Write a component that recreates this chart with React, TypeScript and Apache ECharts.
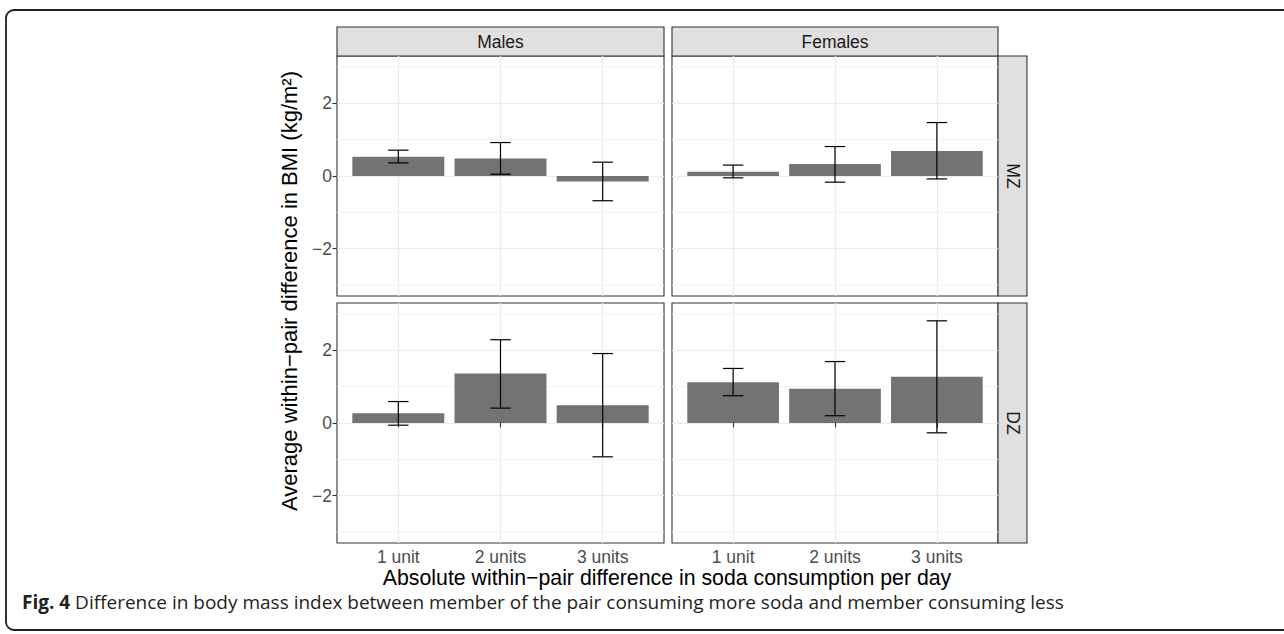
import React, { useEffect, useRef } from "react";
import * as echarts from "echarts";

const categories = ["1 unit", "2 units", "3 units"];
const sexLabels = ["Males", "Females"];
const zygosityLabels = ["MZ", "DZ"];
const yTicks = [-2, 0, 2];
const yMinorTicks = [-3, -1, 1, 3];
const xTicks = [1, 2, 3];

const mzMalesMean = [0.53, 0.48, -0.15];
const mzMalesLow = [0.36, 0.05, -0.68];
const mzMalesHigh = [0.71, 0.92, 0.38];
const mzFemalesMean = [0.12, 0.33, 0.69];
const mzFemalesLow = [-0.05, -0.17, -0.08];
const mzFemalesHigh = [0.3, 0.81, 1.47];
const dzMalesMean = [0.27, 1.36, 0.49];
const dzMalesLow = [-0.06, 0.41, -0.93];
const dzMalesHigh = [0.59, 2.29, 1.91];
const dzFemalesMean = [1.12, 0.94, 1.27];
const dzFemalesLow = [0.75, 0.2, -0.27];
const dzFemalesHigh = [1.5, 1.69, 2.81];

const yTitle = "Average within\u2212pair difference in BMI (kg/m\u00b2)";
const xTitle = "Absolute within\u2212pair difference in soda consumption per day";
const captionBold = "Fig. 4";
const captionText =
  "Difference in body mass index between member of the pair consuming more soda and member consuming less";

const FONT = "Liberation Sans";

export default function App() {
  const ref = useRef<HTMLDivElement>(null);

  useEffect(() => {
    if (!ref.current) return;
    const chart = echarts.init(ref.current, null, { renderer: "svg" });

    const panels = [
      { row: 0, col: 0, mean: mzMalesMean, low: mzMalesLow, high: mzMalesHigh },
      { row: 0, col: 1, mean: mzFemalesMean, low: mzFemalesLow, high: mzFemalesHigh },
      { row: 1, col: 0, mean: dzMalesMean, low: dzMalesLow, high: dzMalesHigh },
      { row: 1, col: 1, mean: dzFemalesMean, low: dzFemalesLow, high: dzFemalesHigh },
    ];
    const panelLeft = [337, 672];
    const panelWidth = [327, 326];
    const panelTop = [56, 303];
    const panelHeight = 240;
    const stripTop = 27;
    const stripH = 29;
    const stripLeft = 998;
    const stripW = 29;

    const grid: any[] = [];
    const xAxis: any[] = [];
    const yAxis: any[] = [];
    const series: any[] = [];

    panels.forEach((p, i) => {
      grid.push({
        left: panelLeft[p.col],
        top: panelTop[p.row],
        width: panelWidth[p.col],
        height: panelHeight,
        show: true,
        backgroundColor: "#ffffff",
        borderColor: "#333333",
        borderWidth: 1.1,
        containLabel: false,
      });
      const bottom = p.row === 1;
      const left = p.col === 0;
      xAxis.push({
        type: "value",
        gridIndex: i,
        min: 0.4,
        max: 3.6,
        axisLine: { show: false },
        axisTick: {
          show: bottom,
          customValues: xTicks,
          length: 4.5,
          lineStyle: { color: "#333333", width: 1.1 },
        },
        axisLabel: {
          show: bottom,
          customValues: xTicks,
          formatter: (v: number) => categories[Math.round(v) - 1] ?? "",
          color: "#4d4d4d",
          fontSize: 17.5,
          fontFamily: FONT,
          margin: 5,
        },
        splitLine: { show: true, lineStyle: { color: "#ebebeb", width: 1.2 } },
      });
      yAxis.push({
        type: "value",
        gridIndex: i,
        min: -3.3,
        max: 3.3,
        axisLine: { show: false },
        axisTick: {
          show: left,
          customValues: yTicks,
          length: 4.5,
          lineStyle: { color: "#333333", width: 1.1 },
        },
        axisLabel: {
          show: left,
          customValues: yTicks,
          formatter: (v: number) => String(v).replace("-", "\u2212"),
          color: "#4d4d4d",
          fontSize: 17.5,
          fontFamily: FONT,
          margin: 5,
        },
        splitLine: { show: true, lineStyle: { color: "#ebebeb", width: 1.2 } },
      });

      series.push({
        type: "custom",
        xAxisIndex: i,
        yAxisIndex: i,
        silent: true,
        z: 1,
        data: yMinorTicks.map((v) => [2, v]),
        renderItem: (params: any, api: any) => {
          const v = api.value(1);
          const a = api.coord([0.4, v]);
          const b = api.coord([3.6, v]);
          return {
            type: "line",
            shape: { x1: a[0], y1: a[1], x2: b[0], y2: b[1] },
            style: { stroke: "#f2f2f2", lineWidth: 1 },
          };
        },
      });

      series.push({
        type: "custom",
        xAxisIndex: i,
        yAxisIndex: i,
        z: 2,
        data: categories.map((c, k) => [k + 1, p.mean[k]]),
        encode: { x: 0, y: 1 },
        renderItem: (params: any, api: any) => {
          const x = api.value(0);
          const y = api.value(1);
          const a = api.coord([x - 0.45, y]);
          const b = api.coord([x + 0.45, 0]);
          return {
            type: "rect",
            shape: {
              x: a[0],
              y: Math.min(a[1], b[1]),
              width: b[0] - a[0],
              height: Math.abs(b[1] - a[1]),
            },
            style: { fill: "#737373" },
          };
        },
      });

      series.push({
        type: "custom",
        xAxisIndex: i,
        yAxisIndex: i,
        z: 3,
        data: categories.map((c, k) => [k + 1, p.low[k], p.high[k]]),
        encode: { x: 0, y: [1, 2] },
        renderItem: (params: any, api: any) => {
          const x = api.value(0);
          const lo = api.coord([x, api.value(1)]);
          const hi = api.coord([x, api.value(2)]);
          const l1 = api.coord([x - 0.1, api.value(1)]);
          const r1 = api.coord([x + 0.1, api.value(1)]);
          const l2 = api.coord([x - 0.1, api.value(2)]);
          const r2 = api.coord([x + 0.1, api.value(2)]);
          const st = { stroke: "#000000", lineWidth: 1.2 };
          return {
            type: "group",
            children: [
              { type: "line", shape: { x1: lo[0], y1: lo[1], x2: hi[0], y2: hi[1] }, style: st },
              { type: "line", shape: { x1: l1[0], y1: l1[1], x2: r1[0], y2: r1[1] }, style: st },
              { type: "line", shape: { x1: l2[0], y1: l2[1], x2: r2[0], y2: r2[1] }, style: st },
            ],
          };
        },
      });
    });

    const graphic: any[] = [
      {
        type: "rect",
        z: -10,
        silent: true,
        shape: { x: 6, y: 10, width: 1320, height: 620, r: 8 },
        style: { fill: "none", stroke: "#231f20", lineWidth: 1.8 },
      },
    ];

    sexLabels.forEach((s, c) => {
      graphic.push({
        type: "rect",
        shape: { x: panelLeft[c], y: stripTop, width: panelWidth[c], height: stripH },
        style: { fill: "#e0e0e0", stroke: "#333333", lineWidth: 1.1 },
      });
      graphic.push({
        type: "text",
        x: panelLeft[c] + panelWidth[c] / 2,
        y: stripTop + stripH / 2,
        style: {
          text: s,
          fill: "#1a1a1a",
          fontSize: 17.5,
          fontFamily: FONT,
          align: "center",
          verticalAlign: "middle",
          textAlign: "center",
          textVerticalAlign: "middle",
        },
      });
    });

    zygosityLabels.forEach((z, r) => {
      graphic.push({
        type: "rect",
        shape: { x: stripLeft, y: panelTop[r], width: stripW, height: panelHeight },
        style: { fill: "#e0e0e0", stroke: "#333333", lineWidth: 1.1 },
      });
      graphic.push({
        type: "text",
        x: stripLeft + stripW / 2,
        y: panelTop[r] + panelHeight / 2,
        rotation: -Math.PI / 2,
        style: {
          text: z,
          fill: "#1a1a1a",
          fontSize: 17.5,
          fontFamily: FONT,
          align: "center",
          verticalAlign: "middle",
          textAlign: "center",
          textVerticalAlign: "middle",
        },
      });
    });

    graphic.push({
      type: "text",
      x: 289,
      y: 291,
      rotation: Math.PI / 2,
      style: {
        text: yTitle,
        fill: "#000000",
        fontSize: 22,
        fontFamily: FONT,
        align: "center",
        verticalAlign: "middle",
        textAlign: "center",
        textVerticalAlign: "middle",
      },
    });

    graphic.push({
      type: "text",
      x: 667,
      y: 578,
      style: {
        text: xTitle,
        fill: "#000000",
        fontSize: 21.3,
        fontFamily: FONT,
        align: "center",
        verticalAlign: "middle",
        textAlign: "center",
        textVerticalAlign: "middle",
      },
    });

    graphic.push({
      type: "text",
      x: 22,
      y: 602,
      style: {
        text: "{b|" + captionBold + "} " + captionText,
        fill: "#231f20",
        fontSize: 19,
        fontFamily: "Open Sans",
        align: "left",
        verticalAlign: "middle",
        textAlign: "left",
        textVerticalAlign: "middle",
        rich: {
          b: {
            fontWeight: "bold",
            fontSize: 19,
            fontFamily: "Open Sans",
            fill: "#231f20",
          },
        },
      },
    });

    chart.setOption({
      animation: false,
      backgroundColor: "#ffffff",
      grid,
      xAxis,
      yAxis,
      series,
      graphic,
    });

    return () => chart.dispose();
  }, []);

  return (
    <div
      ref={ref}
      style={{ position: "fixed", left: 0, top: 0, width: 1284, height: 634 }}
    />
  );
}
